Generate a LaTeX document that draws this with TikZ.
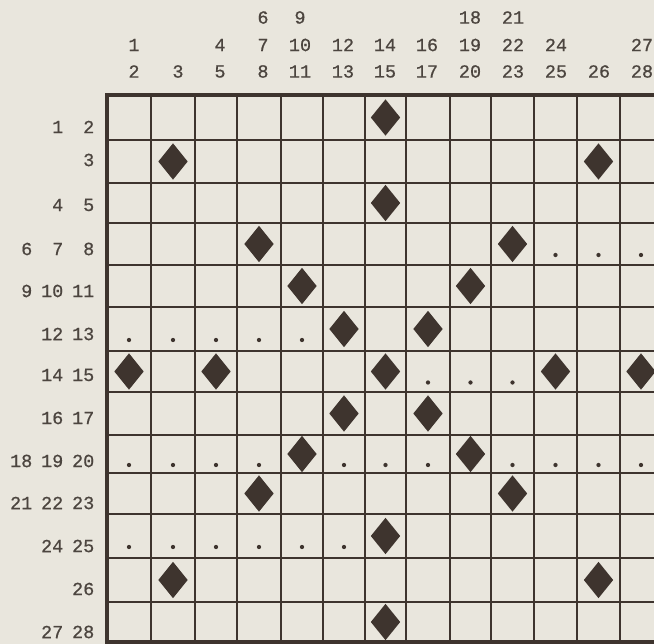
\documentclass[tikz,border=0pt]{standalone}
\usepackage{fontspec}
\newfontfamily\typenum[FakeBold=0.7]{Liberation Mono}
\usetikzlibrary{shapes.geometric}
\definecolor{paper}{RGB}{233,230,221}
\definecolor{ink}{RGB}{62,52,46}
\definecolor{numink}{RGB}{76,69,63}

\begin{document}
\begin{tikzpicture}[x=1pt, y=-1pt,
  gem/.style={diamond, fill=ink, inner sep=0pt, minimum width=29.5pt,
    minimum height=36.5pt},
  pip/.style={circle, fill=ink, inner sep=0pt, minimum size=4.3pt},
  num/.style={font=\typenum\fontsize{18.5}{18.5}\selectfont, text=numink,
    inner sep=0pt},
  rule/.style={draw=ink, line width=1.2pt},
  frame/.style={draw=ink, line width=3.8pt}]
\fill[paper] (0,0) rectangle (654,644);
\useasboundingbox (0,0) rectangle (654,644);
\clip (0,0) rectangle (654,644);
\foreach \x [count=\i] in {129,173,216,259,302,344,385.5,428,470.5,512.5,555.5,598.5,641}
  \coordinate (c\i) at (\x,0);
\foreach \y [count=\j] in {117.5,161.5,203,244,286,329,371.5,413.5,454,493.5,536,580,622}
  \coordinate (r\j) at (0,\y);
\foreach \x [count=\i] in {134,178,220,263,300,343,385,427,470,513,556,599,642}
  \coordinate (k\i) at (\x,0);
\foreach \y [count=\j] in {127,160,205,249,291,334,375,418,461,503,546,589,632}
  \coordinate (t\j) at (0,\y);
\foreach \x in {151,195,237,281,323,365,406,450,491,534,577,620}
  \draw[rule] (\x,95) -- (\x,642);
\foreach \y in {140,183,223,265,307,351,392,435,473,514,558,602}
  \draw[rule] (107,\y) -- (662,\y);
\draw[frame] (107,95) rectangle (662,642);
\foreach \n [count=\i] in {2,3,5,8,11,13,15,17,20,23,25,26,28}
  \node[num] (col\n) at (k\i |- 0,71.5) {\n};
\foreach \i/\n in {1/1,3/4,4/7,5/10,6/12,7/14,8/16,9/19,10/22,11/24,13/27}
  \node[num] (col\n) at (k\i |- 0,45) {\n};
\foreach \i/\n in {4/6,5/9,9/18,10/21}
  \node[num] (col\n) at (k\i |- 0,17.5) {\n};
\foreach \n [count=\j] in {2,3,5,8,11,13,15,17,20,23,25,26,28}
  \node[num, anchor=east] (row\n) at (t\j -| 94.5,0) {\n};
\foreach \j/\n in {1/1,3/4,4/7,5/10,6/12,7/14,8/16,9/19,10/22,11/24,13/27}
  \node[num, anchor=east] (row\n) at (t\j -| 63.5,0) {\n};
\foreach \j/\n in {4/6,5/9,9/18,10/21}
  \node[num, anchor=east] (row\n) at (t\j -| 32.5,0) {\n};
\foreach \c/\r in {7/1,2/2,12/2,7/3,4/4,10/4,5/5,9/5,6/6,8/6,1/7,3/7,7/7,11/7,
    13/7,6/8,8/8,5/9,9/9,4/10,10/10,7/11,2/12,12/12,7/13}
  \node[gem] (gem-\c-\r) at (c\c |- r\r) {};
\foreach \c/\r in {11/4,12/4,13/4,1/6,2/6,3/6,4/6,5/6,8/7,9/7,10/7,1/9,2/9,3/9,
    4/9,6/9,7/9,8/9,10/9,11/9,12/9,13/9,1/11,2/11,3/11,4/11,5/11,6/11}
  \node[pip] (pip-\c-\r) at ([yshift=-11pt]c\c |- r\r) {};
\end{tikzpicture}
\end{document}
